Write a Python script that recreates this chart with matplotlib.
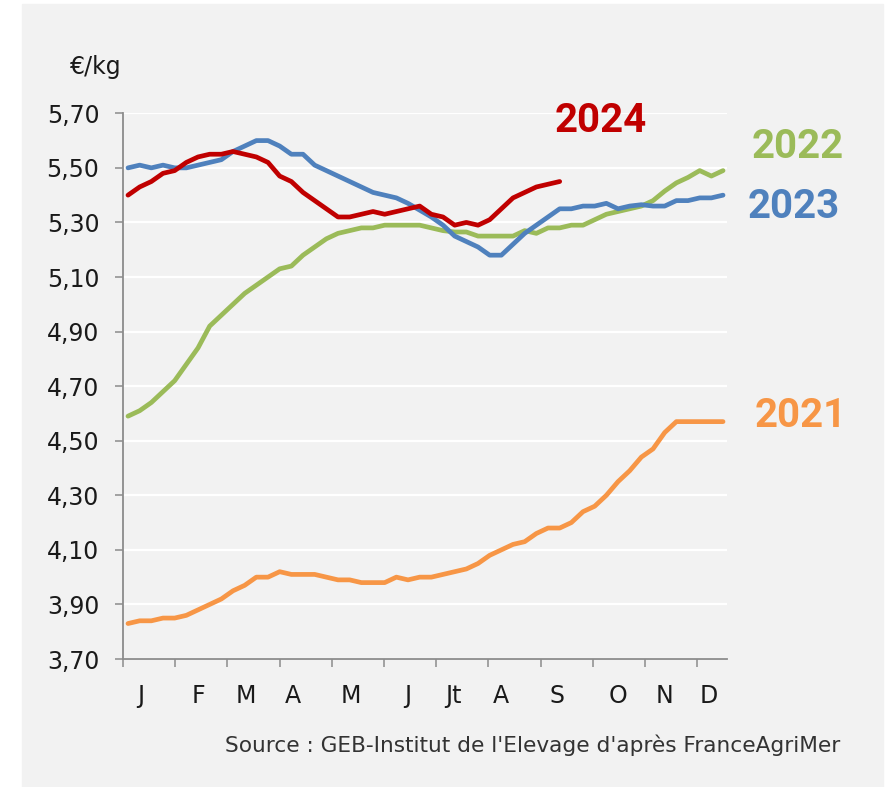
import numpy as np
import matplotlib
matplotlib.use("Agg")
import matplotlib.pyplot as plt
from matplotlib.patches import Rectangle

# weekly prices, €/kg
weeks = np.arange(1, 53)

y2021 = [3.83, 3.84, 3.84, 3.85, 3.85, 3.86, 3.88, 3.90, 3.92, 3.95,
         3.97, 4.00, 4.00, 4.02, 4.01, 4.01, 4.01, 4.00, 3.99, 3.99,
         3.98, 3.98, 3.98, 4.00, 3.99, 4.00, 4.00, 4.01, 4.02, 4.03,
         4.05, 4.08, 4.10, 4.12, 4.13, 4.16, 4.18, 4.18, 4.20, 4.24,
         4.26, 4.30, 4.35, 4.39, 4.44, 4.47, 4.53, 4.57, 4.57, 4.57,
         4.57, 4.57]

y2022 = [4.59, 4.61, 4.64, 4.68, 4.72, 4.78, 4.84, 4.92, 4.96, 5.00,
         5.04, 5.07, 5.10, 5.13, 5.14, 5.18, 5.21, 5.24, 5.26, 5.27,
         5.28, 5.28, 5.29, 5.29, 5.29, 5.29, 5.28, 5.27, 5.265, 5.265,
         5.25, 5.25, 5.25, 5.25, 5.27, 5.26, 5.28, 5.28, 5.29, 5.29,
         5.31, 5.33, 5.34, 5.35, 5.36, 5.38, 5.415, 5.445, 5.465, 5.49,
         5.47, 5.49]

y2023 = [5.50, 5.51, 5.50, 5.51, 5.50, 5.50, 5.51, 5.52, 5.53, 5.56,
         5.58, 5.60, 5.60, 5.58, 5.55, 5.55, 5.51, 5.49, 5.47, 5.45,
         5.43, 5.41, 5.40, 5.39, 5.37, 5.345, 5.32, 5.29, 5.25, 5.23,
         5.21, 5.18, 5.18, 5.22, 5.26, 5.29, 5.32, 5.35, 5.35, 5.36,
         5.36, 5.37, 5.35, 5.36, 5.365, 5.36, 5.36, 5.38, 5.38, 5.39,
         5.39, 5.40]

y2024 = [5.40, 5.43, 5.45, 5.48, 5.49, 5.52, 5.54, 5.55, 5.55, 5.56,
         5.55, 5.54, 5.52, 5.47, 5.45, 5.41, 5.38, 5.35, 5.32, 5.32,
         5.33, 5.34, 5.33, 5.34, 5.35, 5.36, 5.33, 5.32, 5.29, 5.30,
         5.29, 5.31, 5.35, 5.39, 5.41, 5.43, 5.44, 5.45]

month_labels = ["J", "F", "M", "A", "M", "J", "Jt", "A", "S", "O", "N", "D"]
month_label_pos = [2.1, 7.0, 11.1, 15.1, 20.1, 25.0, 28.9, 33.0, 37.8, 43.0, 47.0, 50.8]

yticks = [3.70, 3.90, 4.10, 4.30, 4.50, 4.70, 4.90, 5.10, 5.30, 5.50, 5.70]

series = [
    ("2021", y2021, "#F79646"),
    ("2022", y2022, "#9BBB59"),
    ("2023", y2023, "#4F81BD"),
    ("2024", y2024, "#C00000"),
]
# label placement in pixels (left x, baseline y)
label_px = {"2024": (555, 132), "2022": (752, 158), "2023": (748, 218), "2021": (755, 427)}

W, H = 894, 787
fig = plt.figure(figsize=(W / 100, H / 100), dpi=100, facecolor="white")
fig.patches.append(Rectangle((22 / W, 0), (883 - 22) / W, (H - 4) / H,
                             transform=fig.transFigure, color="#F2F2F2", zorder=-5))

ax = fig.add_axes([123 / W, 1 - 659 / H, 604 / W, (659 - 113.3) / H])
ax.set_facecolor("#F2F2F2")

for name, vals, col in series:
    ax.plot(weeks[:len(vals)], vals, color=col, lw=3.4, solid_capstyle="round", zorder=3)

ax.set_ylim(3.70, 5.70)
ax.set_yticks(yticks)
ax.set_yticklabels([f"{v:.2f}".replace(".", ",") for v in yticks])
ax.yaxis.grid(True, color="white", lw=1.6)
ax.set_axisbelow(True)

# week axis, tick every ~4.47 weeks as in the source
ax.set_xlim(0.571, 52.34)
ax.set_xticks([0.571 + 4.474 * k for k in range(12)])
ax.set_xticklabels([])
ax.set_xticks(month_label_pos, minor=True)
ax.set_xticklabels(month_labels, minor=True)
ax.tick_params(axis="x", which="minor", length=0, pad=18, labelsize=17, labelcolor="#1a1a1a")
ax.tick_params(axis="x", which="major", length=6, width=1.1, color="#8c8c8c")
ax.tick_params(axis="y", length=6, width=1.1, color="#8c8c8c", pad=11, labelsize=17,
               labelcolor="#1a1a1a")

for s in ["top", "right"]:
    ax.spines[s].set_visible(False)
for s in ["left", "bottom"]:
    ax.spines[s].set_color("#8c8c8c")
    ax.spines[s].set_linewidth(1.3)

for name, vals, col in series:
    x, y = label_px[name]
    fig.text(x / W, 1 - y / H, name, color=col, fontsize=29, fontweight="bold",
             family="Roboto", ha="left", va="baseline")

fig.text(70 / W, 1 - 67 / H, "€/kg", fontsize=17, color="#1a1a1a", ha="left", va="center")
fig.text(840 / W, 1 - 745 / H, "Source : GEB-Institut de l'Elevage d'après FranceAgriMer",
         fontsize=15.6, color="#333333", ha="right", va="center")

fig.savefig("out.png", dpi=100, facecolor=fig.get_facecolor())
